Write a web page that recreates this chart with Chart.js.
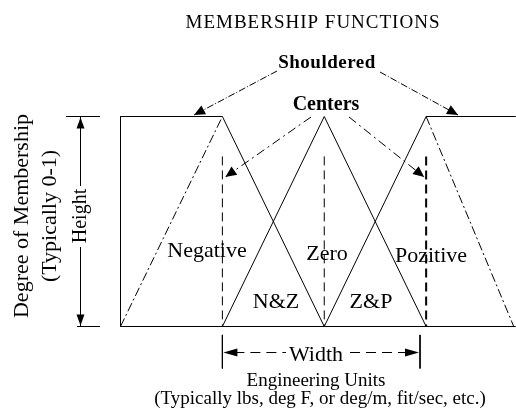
<!DOCTYPE html>
<html>
<head>
<meta charset="utf-8">
<script src="https://cdn.jsdelivr.net/npm/chart.js@4/dist/chart.umd.min.js"></script>
<style>
  html, body { margin: 0; padding: 0; background: #fff; }
  #wrap { width: 516px; height: 414px; }
</style>
</head>
<body>
<div id="wrap"><canvas id="myChart" width="516" height="414"></canvas></div>
<script>
// membership sets (x in engineering units, y = degree of membership)
const setLabels = ["Negative", "Zero", "Pozitive"];
const centers = [-1, 0, 1];

const negativeX = [-2, -1, 0];
const negativeY = [1, 1, 0];
const negativeHiddenX = [-2, -1];   // the unshouldered side, dashed
const negativeHiddenY = [0, 1];

const zeroX = [-1, 0, 1];
const zeroY = [0, 1, 0];

const pozitiveX = [0, 1, 1.88];
const pozitiveY = [0, 1, 1];
const pozitiveHiddenX = [1, 1.86];
const pozitiveHiddenY = [1, 0];

// left edge + base line of the plot
const frameX = [-2, -2, 1.88];
const frameY = [1, 0, 0];

const centerLineTop = 0.81;
const widthStart = -1;
const widthEnd = 0.94;

function pts(xs, ys) {
    return xs.map((x, i) => ({ x: x, y: ys[i] }));
}

function line(xs, ys, dash, width) {
    return {
        data: pts(xs, ys),
        showLine: true,
        borderColor: "#000",
        borderWidth: width || 1,
        borderDash: dash || [],
        pointRadius: 0,
        fill: false,
        clip: false
    };
}

const datasets = [
    line(frameX, frameY),
    line(negativeX, negativeY),
    line(negativeHiddenX, negativeHiddenY, [9, 3, 2, 3]),
    line(zeroX, zeroY),
    line(pozitiveX, pozitiveY),
    line(pozitiveHiddenX, pozitiveHiddenY, [9, 3, 2, 3])
];

// dashed center lines
centers.forEach((c, i) => {
    datasets.push(line([c, c], [centerLineTop, 0], [9, 5], i == 2 ? 2 : 1));
});

// width markers below the base line
datasets.push(line([widthStart, widthStart], [-0.04, -0.2]));
datasets.push(line([widthEnd, widthEnd], [-0.04, -0.2]));

const serif = "'Liberation Serif', 'Times New Roman', serif";

function arrowHead(ctx, x1, y1, x2, y2, len, half) {
    const a = Math.atan2(y2 - y1, x2 - x1);
    ctx.save();
    ctx.setLineDash([]);
    ctx.beginPath();
    ctx.moveTo(x2, y2);
    ctx.lineTo(x2 - len * Math.cos(a) + half * Math.sin(a), y2 - len * Math.sin(a) - half * Math.cos(a));
    ctx.lineTo(x2 - len * Math.cos(a) - half * Math.sin(a), y2 - len * Math.sin(a) + half * Math.cos(a));
    ctx.closePath();
    ctx.fill();
    ctx.restore();
}

function arrow(ctx, x1, y1, x2, y2, dash) {
    ctx.save();
    ctx.setLineDash(dash || []);
    ctx.beginPath();
    ctx.moveTo(x1, y1);
    ctx.lineTo(x2, y2);
    ctx.stroke();
    ctx.restore();
    arrowHead(ctx, x1, y1, x2, y2, 11, 5);
}

function text(ctx, str, x, y, size, bold, align) {
    ctx.font = (bold ? "bold " : "") + size + "px " + serif;
    ctx.textAlign = align || "center";
    ctx.fillText(str, x, y);
}

const annotations = {
    id: "annotations",
    afterDatasetsDraw(chart) {
        const ctx = chart.ctx;
        const xs = chart.scales.x, ys = chart.scales.y;
        const px = v => xs.getPixelForValue(v);
        const py = v => ys.getPixelForValue(v);

        ctx.save();
        ctx.fillStyle = "#000";
        ctx.strokeStyle = "#000";
        ctx.lineWidth = 1;
        ctx.textBaseline = "alphabetic";

        // title
        ctx.letterSpacing = "1px";
        text(ctx, "MEMBERSHIP FUNCTIONS", 313, 28, 19);
        ctx.letterSpacing = "0px";

        // Shouldered
        ctx.letterSpacing = "0.5px";
        text(ctx, "Shouldered", 327, 68, 19, true);
        ctx.letterSpacing = "0px";
        arrow(ctx, 277, 71, 194, 115, [7, 2, 1, 2]);
        arrow(ctx, 380, 72, 458, 115, [7, 2, 1, 2]);

        // Centers
        text(ctx, "Centers", 326, 110, 20, true);
        arrow(ctx, 311, 117, px(centers[0]) + 3, 177, [9, 4, 2, 4]);
        arrow(ctx, 349, 117, px(centers[2]) - 2, 177, [9, 4, 2, 4]);

        // set labels
        text(ctx, setLabels[0], 207, 257, 22);
        text(ctx, setLabels[1], 327, 260, 22);
        text(ctx, setLabels[2], 431, 262, 22);
        text(ctx, "N&Z", 276, 308, 22);
        text(ctx, "Z&P", 371, 308, 22);

        // Height dimension
        const top = py(1), bot = py(0);
        ctx.beginPath();
        ctx.moveTo(66, top); ctx.lineTo(100, top);
        ctx.moveTo(77, bot); ctx.lineTo(100, bot);
        ctx.moveTo(80.5, top); ctx.lineTo(80.5, 186);
        ctx.moveTo(80.5, 247); ctx.lineTo(80.5, bot);
        ctx.stroke();
        arrowHead(ctx, 80.5, 200, 80.5, top + 1, 11, 4);
        arrowHead(ctx, 80.5, 200, 80.5, bot - 1, 11, 4);

        // rotated axis texts
        ctx.save();
        ctx.translate(86, 216);
        ctx.rotate(-Math.PI / 2);
        text(ctx, "Height", 0, 0, 20);
        ctx.restore();

        ctx.save();
        ctx.translate(28, 216);
        ctx.rotate(-Math.PI / 2);
        text(ctx, "Degree of Membership", 0, 0, 22);
        ctx.restore();

        ctx.save();
        ctx.translate(56, 216);
        ctx.rotate(-Math.PI / 2);
        text(ctx, "(Typically 0-1)", 0, 0, 22);
        ctx.restore();

        // Width dimension
        const wl = px(widthStart), wr = px(widthEnd), wy = 352.5;
        ctx.save();
        ctx.setLineDash([10, 6]);
        ctx.beginPath();
        ctx.moveTo(wl + 12, wy); ctx.lineTo(286, wy);
        ctx.moveTo(wr - 12, wy); ctx.lineTo(346, wy);
        ctx.stroke();
        ctx.restore();
        arrowHead(ctx, wl + 20, wy, wl + 1, wy, 14, 4);
        arrowHead(ctx, wr - 20, wy, wr - 1, wy, 14, 4);
        text(ctx, "Width", 316, 361, 22);

        text(ctx, "Engineering Units", 316, 386, 19);
        text(ctx, "(Typically lbs, deg F, or deg/m, fit/sec, etc.)", 320, 404, 19);

        ctx.restore();
    }
};

new Chart("myChart", {
    type: "scatter",
    data: { datasets: datasets },
    options: {
        responsive: false,
        animation: false,
        layout: { padding: { left: 120.5, right: 0, top: 116.5, bottom: 87.5 } },
        plugins: {
            legend: { display: false },
            tooltip: { enabled: false }
        },
        scales: {
            x: { type: "linear", min: -2, max: 1.882, display: false },
            y: { type: "linear", min: 0, max: 1, display: false }
        }
    },
    plugins: [annotations]
});
</script>
</body>
</html>
